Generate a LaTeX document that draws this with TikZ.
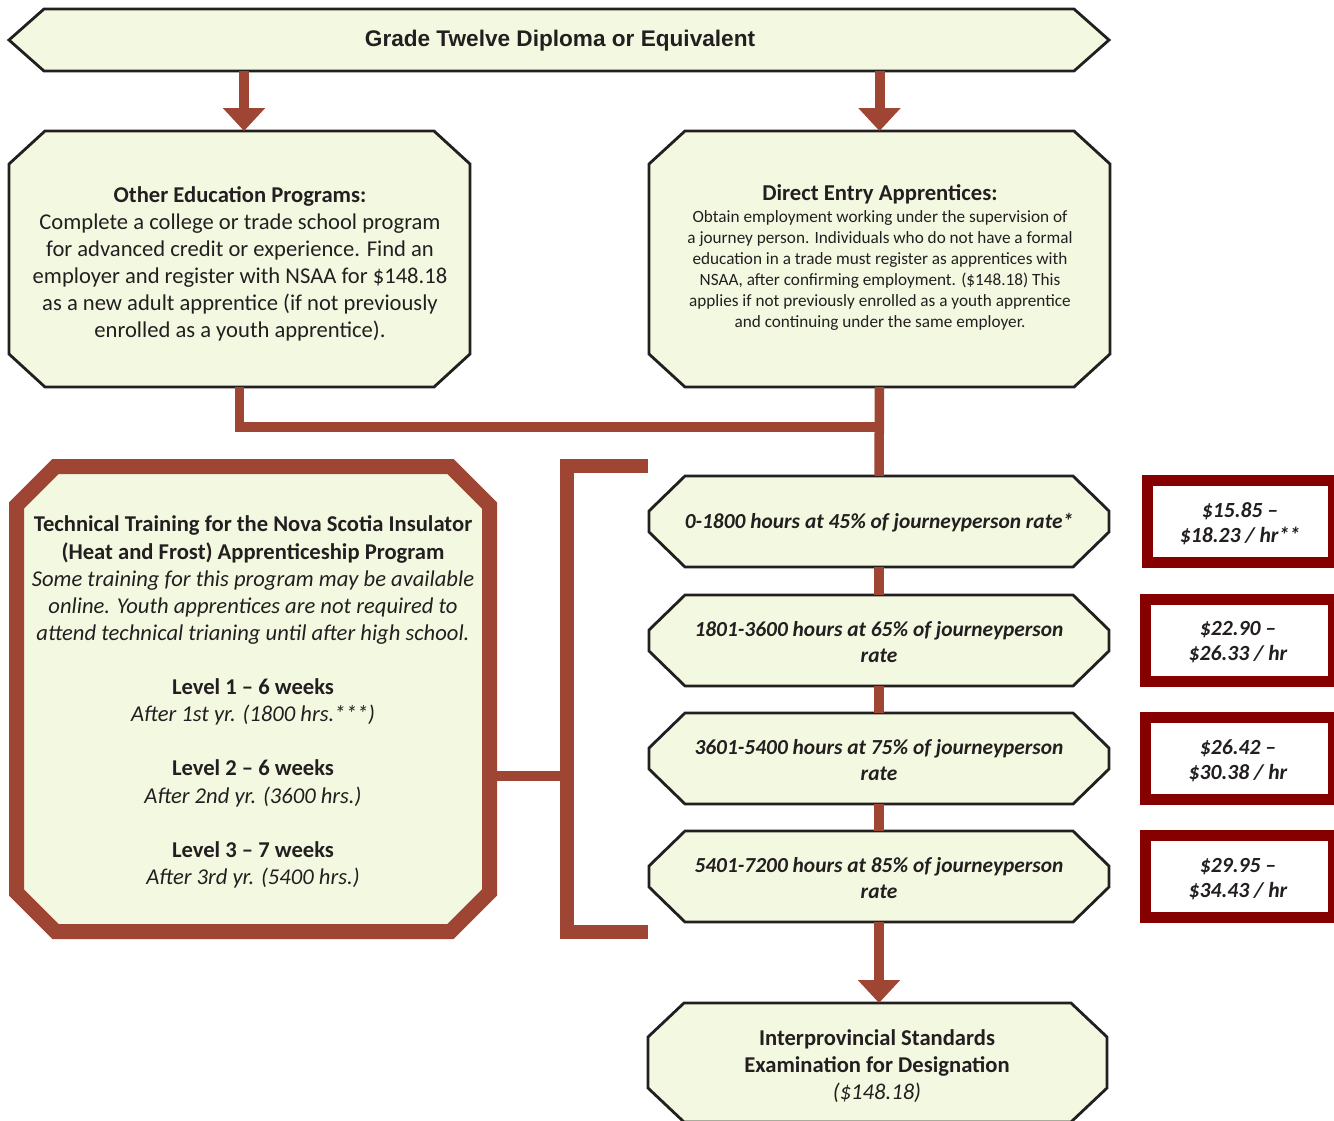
\documentclass[tikz,border=0pt]{standalone}
\usepackage{fontspec}
\setmainfont{Carlito}
\newfontfamily\arialfont{Liberation Sans}
\usetikzlibrary{arrows.meta}
\definecolor{boxfill}{HTML}{F3F9E1}
\definecolor{brn}{HTML}{9E4533}
\definecolor{dred}{HTML}{860000}
\definecolor{ink}{HTML}{231F20}
\newcommand\chamfbox[4]{\draw[#4] ([xshift=#2pt]#1.north west) -- ([xshift=-#2pt]#1.north east) -- ([yshift=-#3pt]#1.north east) -- ([yshift=#3pt]#1.south east) -- ([xshift=-#2pt]#1.south east) -- ([xshift=#2pt]#1.south west) -- ([yshift=#3pt]#1.south west) -- ([yshift=-#3pt]#1.north west) -- cycle;}
\begin{document}
\begin{tikzpicture}[x=1pt,y=-1pt,
  hold/.style={draw=none,inner sep=0pt,outer sep=0pt,rectangle},
  greenbox/.style={fill=boxfill,draw=ink,line width=2.8pt,line join=miter},
  octbox/.style={fill=boxfill,draw=brn,line width=15pt,line join=miter},
  paybox/.style={fill=white,draw=dred,line width=11pt,line join=miter},
  conn/.style={draw=brn,line width=9.5pt,line join=miter},
  arr/.style={draw=brn,line width=10pt,-{Triangle[width=41pt,length=23pt]}},
  txt/.style={text=ink,align=center,inner sep=0pt},
  ratefont/.style={font=\fontsize{21.4}{26}\selectfont\bfseries\itshape},
  payfont/.style={font=\fontsize{21.6}{25}\selectfont\bfseries\itshape}]
\useasboundingbox (0,0) rectangle (1334,1120);
\clip (0,0) rectangle (1334,1120);
% placeholders
\node[hold,minimum width=1100pt,minimum height=62pt] (banner) at (559,40) {};
\node[hold,minimum width=461pt,minimum height=256pt] (other) at (239.5,259) {};
\node[hold,minimum width=461pt,minimum height=256pt] (direct) at (879.5,259) {};
\node[hold,minimum width=473pt,minimum height=465pt] (tech) at (253,699) {};
\node[hold,minimum width=460pt,minimum height=91pt] (r1) at (879,521.5) {};
\node[hold,minimum width=460pt,minimum height=91pt] (r2) at (879,640.5) {};
\node[hold,minimum width=460pt,minimum height=91pt] (r3) at (879,758.5) {};
\node[hold,minimum width=460pt,minimum height=91pt] (r4) at (879,876.5) {};
\node[hold,minimum width=459pt,minimum height=119pt] (exam) at (877.5,1062.5) {};
\node[hold,minimum width=186pt,minimum height=82pt] (s1) at (1240.5,521.5) {};
\node[hold,minimum width=188pt,minimum height=82pt] (s2) at (1239.5,640.5) {};
\node[hold,minimum width=188pt,minimum height=82pt] (s3) at (1239.5,758.5) {};
\node[hold,minimum width=188pt,minimum height=82pt] (s4) at (1239.5,876.5) {};
\coordinate (junc) at (880,427);
\coordinate (brk) at (567,776);
\coordinate (brkT) at (648,466);
\coordinate (brkB) at (648,932);
% shapes
\draw[greenbox] (banner.west) -- ([xshift=35pt]banner.north west) -- ([xshift=-35pt]banner.north east) -- (banner.east) -- ([xshift=-35pt]banner.south east) -- ([xshift=35pt]banner.south west) -- cycle;
\chamfbox{other}{36}{33}{greenbox}
\chamfbox{direct}{36}{33}{greenbox}
\chamfbox{tech}{39}{39}{octbox}
\chamfbox{r1}{36}{35}{greenbox}
\chamfbox{r2}{36}{35}{greenbox}
\chamfbox{r3}{36}{35}{greenbox}
\chamfbox{r4}{36}{35}{greenbox}
\chamfbox{exam}{36}{34}{greenbox}
\draw[paybox] (s1.north west) rectangle (s1.south east);
\draw[paybox] (s2.north west) rectangle (s2.south east);
\draw[paybox] (s3.north west) rectangle (s3.south east);
\draw[paybox] (s4.north west) rectangle (s4.south east);
% connectors
\draw[arr] ([xshift=4.5pt]other.north |- banner.south) -- ([xshift=4.5pt]other.north);
\draw[arr] (direct.north |- banner.south) -- (direct.north);
\draw[conn] (other.south) |- (junc);
\draw[conn] (direct.south) -- (r1.north);
\draw[conn] (r1.south) -- (r2.north);
\draw[conn] (r2.south) -- (r3.north);
\draw[conn] (r3.south) -- (r4.north);
\draw[arr] (r4.south) -- (r4.south |- exam.north);
\draw[conn] (tech.east |- brk) -- (brk);
\draw[draw=brn,line width=14pt,line join=miter] (brkT) -| (brk) |- (brkB);
% texts
\node[txt,font=\arialfont\bfseries\fontsize{22.6}{26}\selectfont] (bannerT) at (560,41) {Grade Twelve Diploma or Equivalent};
\node[txt,font=\fontsize{22.6}{27}\selectfont] (otherT) at (240,263.5) {\textbf{Other Education Programs:}\\Complete a college or trade school program\\for advanced credit or experience. Find an\\employer and register with NSAA for \$148.18\\as a new adult apprentice (if not previously\\enrolled as a youth apprentice).};
\node[txt,font=\fontsize{17.2}{21}\selectfont] (directT) at (880,257) {{\fontsize{22.7}{21}\selectfont\bfseries Direct Entry Apprentices:}\\[1pt]Obtain employment working under the supervision of\\a journey person. Individuals who do not have a formal\\education in a trade must register as apprentices with\\NSAA, after confirming employment. (\$148.18) This\\applies if not previously enrolled as a youth apprentice\\and continuing under the same employer.};
\node[txt,font=\fontsize{22.6}{27.15}\selectfont] (techT) at (253,702) {\textbf{Technical Training for the Nova Scotia Insulator}\\\textbf{(Heat and Frost) Apprenticeship Program}\\\textit{Some training for this program may be available}\\\textit{online. Youth apprentices are not required to}\\\textit{attend technical trianing until after high school.}\\[27pt]\textbf{Level 1 – 6 weeks}\\\textit{After 1st yr. (1800 hrs.***)}\\[27pt]\textbf{Level 2 – 6 weeks}\\\textit{After 2nd yr. (3600 hrs.)}\\[27pt]\textbf{Level 3 – 7 weeks}\\\textit{After 3rd yr. (5400 hrs.)}};
\node[txt,ratefont] (r1T) at (879,523) {0-1800 hours at 45\% of journeyperson rate*};
\node[txt,ratefont] (r2T) at (879,642) {1801-3600 hours at 65\% of journeyperson\\rate};
\node[txt,ratefont] (r3T) at (879,760) {3601-5400 hours at 75\% of journeyperson\\rate};
\node[txt,ratefont] (r4T) at (879,878) {5401-7200 hours at 85\% of journeyperson\\rate};
\node[txt,payfont] (s1T) at (1240,524) {\$15.85 –\\\$18.23 / hr**};
\node[txt,payfont] (s2T) at (1238,642.5) {\$22.90 –\\\$26.33 / hr};
\node[txt,payfont] (s3T) at (1238,760.5) {\$26.42 –\\\$30.38 / hr};
\node[txt,payfont] (s4T) at (1238,879.5) {\$29.95 –\\\$34.43 / hr};
\node[txt,font=\fontsize{22.6}{27}\selectfont] (examT) at (877,1066) {\textbf{Interprovincial Standards}\\\textbf{Examination for Designation}\\\textit{(\$148.18)}};
\end{tikzpicture}
\end{document}
